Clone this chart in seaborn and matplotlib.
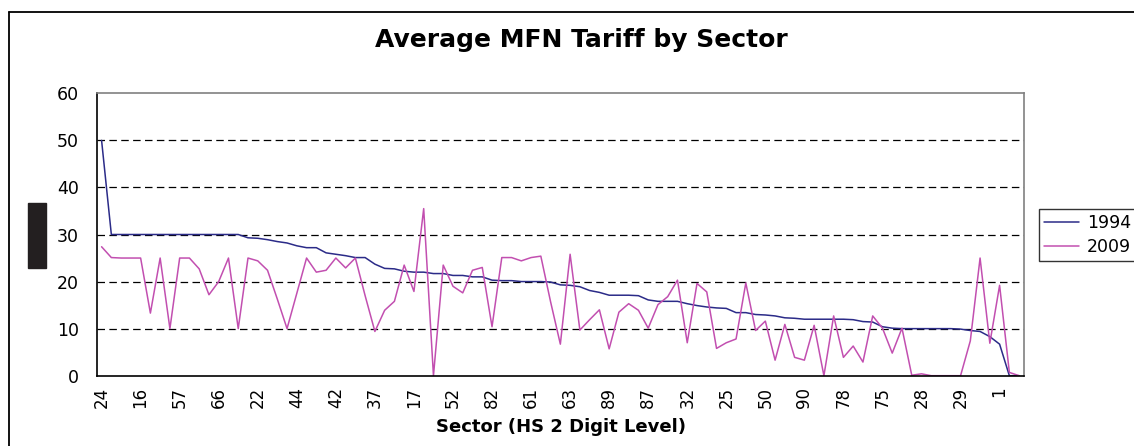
import pandas as pd
import numpy as np
import matplotlib.pyplot as plt
import seaborn as sns
from matplotlib.patches import Rectangle
from matplotlib.lines import Line2D

# HS 2-digit sectors, ordered by 1994 tariff (descending)
sectors = [24, 4, 2, 20, 16, 19, 21, 64, 57, 58, 62, 65, 66, 67, 94, 3,
           22, 18, 46, 69, 44, 43, 60, 70, 42, 33, 56, 96, 37, 9, 11, 15,
           17, 7, 8, 55, 52, 54, 59, 95, 82, 6, 34, 36, 61, 71, 39, 40,
           63, 48, 73, 13, 89, 83, 85, 86, 87, 91, 92, 68, 32, 35, 38, 23,
           25, 30, 84, 76, 50, 74, 72, 81, 90, 79, 80, 45, 78, 49, 53, 14,
           75, 12, 10, 26, 28, 27, 31, 47, 29, 41, 5, 88, 1, 51, 97]

tariff_1994 = [50, 30, 30, 30, 30, 30, 30, 30, 30, 30, 30, 30, 30, 30, 30,
               29.3, 29.2, 28.9, 28.5, 28.2, 27.6, 27.2, 27.2, 26.1, 25.8, 25.5, 25.1, 25.1,
               23.7, 22.8, 22.7, 22.2, 22.0, 22.0, 21.7, 21.7, 21.3, 21.3, 21.0, 21.0,
               20.3, 20.2, 20.2, 20.0, 20.0, 20.0, 19.9, 19.3, 19.2, 18.9, 18.1, 17.7,
               17.1, 17.1, 17.1, 17.0, 16.1, 15.8, 15.8, 15.8, 15.3, 14.9, 14.6, 14.4,
               14.3, 13.4, 13.4, 13.0, 12.9, 12.7, 12.3, 12.2, 12.0, 12.0, 12.0, 12.0,
               12.0, 11.9, 11.5, 11.4, 10.4, 10.1, 10, 10, 10, 10, 10, 10,
               9.9, 9.6, 9.4, 8.3, 6.7, 0, 0]

tariff_2009 = [27.4, 25.1, 25, 25, 25, 13.3, 25, 10, 25, 25, 22.7, 17.2, 20, 25, 10,
               25, 24.4, 22.4, 16.3, 10, 17.5, 25, 22, 22.4, 25, 22.9, 25, 17,
               9.4, 13.9, 15.8, 23.5, 17.9, 35.5, 0, 23.5, 19.0, 17.6, 22.4, 23.0,
               10.4, 25.1, 25.1, 24.4, 25.1, 25.4, 15.7, 6.7, 25.8, 9.7, 11.9, 14.0,
               5.7, 13.5, 15.3, 13.9, 10.1, 15.1, 16.8, 20.3, 7.0, 19.6, 17.8, 5.8,
               7.0, 7.8, 19.7, 9.6, 11.6, 3.3, 10.9, 3.9, 3.3, 10.7, 0, 12.7,
               3.9, 6.3, 2.9, 12.7, 10.1, 4.8, 10.1, 0.1, 0.4, 0, 0, 0,
               0, 7.4, 25.0, 6.9, 19.2, 0.7, 0]

years = ['1994', '2009']
colors = {'1994': '#2b2b88', '2009': '#c24fb0'}
y_ticks = [0, 10, 20, 30, 40, 50, 60]

n = len(sectors)
pos = np.arange(n) + 0.5
df = pd.DataFrame({'pos': pos, '1994': tariff_1994, '2009': tariff_2009})
df_long = df.melt(id_vars='pos', value_vars=years, var_name='year', value_name='tariff')

sns.set_style('white')
plt.rcParams['font.family'] = ['DejaVu Sans']
plt.rcParams['text.color'] = 'black'
plt.rcParams['xtick.labelcolor'] = 'black'
plt.rcParams['ytick.labelcolor'] = 'black'

W, H = 1134, 446
fig = plt.figure(figsize=(W / 100, H / 100), dpi=100)
ax = fig.add_axes([96.7 / W, 1 - 375.7 / H, (1024 - 96.7) / W, (375.7 - 93.3) / H])

# dashed gridlines, only between the bottom and top border
for yv in y_ticks[1:-1]:
    ax.axhline(yv, linestyle=(0, (6, 3.5)), color='black', linewidth=0.9, zorder=0)

sns.lineplot(data=df_long, x='pos', y='tariff', hue='year', hue_order=years,
             palette=colors, linewidth=1.1, ax=ax, legend=False)

ax.set_xlim(0, n)
ax.set_ylim(0, 60)
ax.set_yticks(y_ticks)
ax.set_xticks(np.arange(0, n + 1), minor=True)
ax.set_xticks(pos[::4])
ax.set_xticklabels([str(s) for s in sectors[::4]], rotation=90, fontsize=12)
ax.tick_params(axis='x', which='major', length=0, pad=8, labelcolor='black')
ax.tick_params(axis='x', which='minor', length=5, width=1, color='black', direction='out')
ax.tick_params(axis='y', length=6, width=1, color='black', direction='out', pad=7,
               labelsize=12.5, labelcolor='black')
ax.set_xlabel('')
ax.set_ylabel('')
ax.grid(False)

for side in ['left', 'bottom']:
    ax.spines[side].set_color('black')
    ax.spines[side].set_linewidth(1.2)
for side in ['top', 'right']:
    ax.spines[side].set_color('#808080')
    ax.spines[side].set_linewidth(1.2)

handles = [Line2D([0], [0], color=colors[y], lw=1.1) for y in years]
leg = ax.legend(handles, years, loc='upper left', bbox_to_anchor=(1039 / W, 1 - 209 / H),
                bbox_transform=fig.transFigure, frameon=True, fancybox=False,
                edgecolor='black', fontsize=12.5, handlelength=2.0, borderpad=0.3,
                labelspacing=0.35, handletextpad=0.45, borderaxespad=0, labelcolor='black')
leg.get_frame().set_linewidth(1.0)

fig.text(581 / W, 1 - 40 / H, 'Average MFN Tariff by Sector', ha='center', va='center',
         fontsize=18, fontweight='bold', color='black')
fig.text(561 / W, 1 - 427.5 / H, 'Sector (HS 2 Digit Level)', ha='center', va='center',
         fontsize=13, fontweight='bold', color='black')

# outer chart frame and the blacked-out axis label
fig.add_artist(Line2D([9 / W, 9 / W], [0, 1 - 12 / H], transform=fig.transFigure, color='black', lw=1.3))
fig.add_artist(Line2D([9 / W, 1], [1 - 12 / H, 1 - 12 / H], transform=fig.transFigure, color='black', lw=1.3))
fig.add_artist(Rectangle((28 / W, 1 - 268 / H), 18 / W, 65 / H, transform=fig.transFigure,
                         color='#231f20'))

fig.savefig('out.png', dpi=100)
